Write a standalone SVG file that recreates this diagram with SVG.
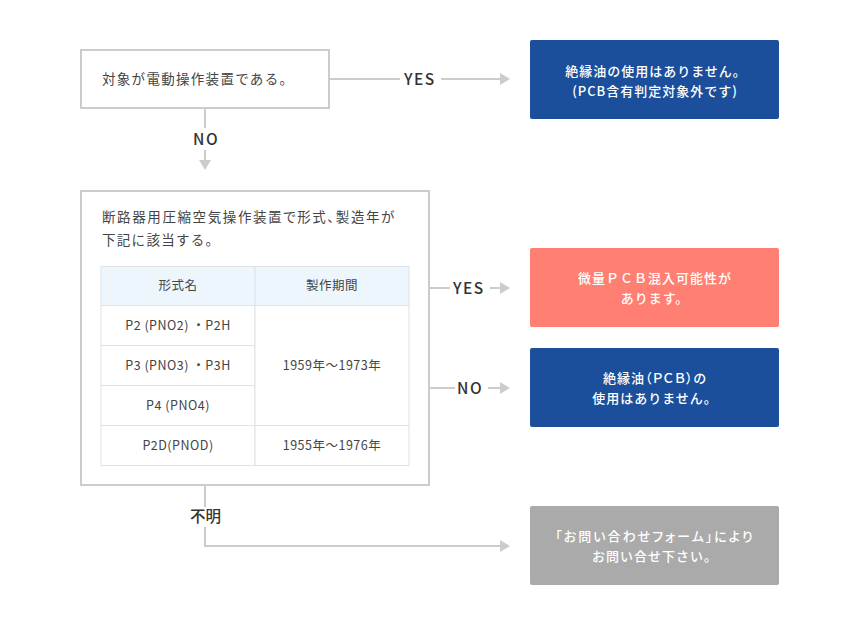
<svg xmlns="http://www.w3.org/2000/svg" width="860" height="626" viewBox="0 0 860 626">
<defs>
<style>
text{font-family:"Noto Sans CJK JP","Noto Sans",sans-serif;}
.q{fill:#fff;stroke:#cccccc;stroke-width:2;}
.t{font-size:13.5px;fill:#444;letter-spacing:1.3px;}
.c{font-size:12.5px;fill:#444;text-anchor:middle;letter-spacing:0.5px;}
.w{font-size:13px;fill:#fff;text-anchor:middle;letter-spacing:1px;font-weight:500;}
.p{font-feature-settings:"palt";}
.lb{font-size:15.5px;fill:#333;font-weight:500;letter-spacing:1.5px;}
.ln{stroke:#cccccc;stroke-width:2;fill:none;}
.ah{fill:#cccccc;}
.cell{fill:#fff;stroke:#dde3e8;stroke-width:1;}
.hd{fill:#eef6fd;stroke:#dde3e8;stroke-width:1;}
</style>
</defs>
<rect width="860" height="626" fill="#fff"/>
<g id="connectors">
<line class="ln" x1="329" y1="79" x2="400" y2="79"/>
<text class="lb" x="404" y="84.5">YES</text>
<line class="ln" x1="441" y1="79" x2="501" y2="79"/>
<polygon class="ah" points="500,73 510,79 500,85"/>
<line class="ln" x1="205" y1="108" x2="205" y2="128"/>
<text class="lb" x="193" y="145">NO</text>
<line class="ln" x1="205" y1="150" x2="205" y2="161"/>
<polygon class="ah" points="199,160 211,160 205,170"/>
<line class="ln" x1="429" y1="288" x2="450" y2="288"/>
<text class="lb" x="453" y="293.5">YES</text>
<line class="ln" x1="490" y1="288" x2="501" y2="288"/>
<polygon class="ah" points="500,282 510,288 500,294"/>
<line class="ln" x1="429" y1="388" x2="455" y2="388"/>
<text class="lb" x="457" y="393.5">NO</text>
<line class="ln" x1="488" y1="388" x2="501" y2="388"/>
<polygon class="ah" points="500,382 510,388 500,394"/>
<line class="ln" x1="205" y1="485" x2="205" y2="507"/>
<text class="lb" x="190" y="522" style="letter-spacing:0">不明</text>
<polyline class="ln" points="205,527 205,546 501,546"/>
<polygon class="ah" points="500,540 510,546 500,552"/>
</g>
<g id="q1">
<rect class="q" x="81" y="50" width="248" height="58"/>
<text class="t" x="102" y="84">対象が電動操作装置である。</text>
</g>
<g id="r1">
<rect x="530" y="40" width="249" height="79" rx="2" fill="#1b4f9c"/>
<text class="w" x="656" y="76">絶縁油の使用はありません。</text>
<text class="w" x="655" y="96">(PCB含有判定対象外です)</text>
</g>
<g id="q2">
<rect class="q" x="81" y="191" width="348" height="294"/>
<text class="t p" x="102" y="222" style="letter-spacing:1.6px">断路器用圧縮空気操作装置で形式、製造年が</text>
<text class="t" x="102" y="245">下記に該当する。</text>
<g id="table">
<rect class="hd" x="101" y="266.5" width="154" height="39"/>
<rect class="hd" x="255" y="266.5" width="154" height="39"/>
<rect class="cell" x="101" y="305.5" width="154" height="40"/>
<rect class="cell" x="101" y="345.5" width="154" height="40"/>
<rect class="cell" x="101" y="385.5" width="154" height="40"/>
<rect class="cell" x="101" y="425.5" width="154" height="40"/>
<rect class="cell" x="255" y="305.5" width="154" height="120"/>
<rect class="cell" x="255" y="425.5" width="154" height="40"/>
<text class="c" x="178" y="290">形式名</text>
<text class="c" x="332" y="290">製作期間</text>
<text class="c" x="178" y="330">P2 (PNO2) ・P2H</text>
<text class="c" x="178" y="370">P3 (PNO3) ・P3H</text>
<text class="c" x="178" y="410">P4 (PNO4)</text>
<text class="c" x="178" y="450">P2D(PNOD)</text>
<text class="c" x="332" y="370">1959年～1973年</text>
<text class="c" x="332" y="450">1955年～1976年</text>
</g>
</g>
<g id="r2">
<rect x="530" y="248" width="249" height="79" rx="2" fill="#ff7f73"/>
<text class="w" x="655" y="283">微量ＰＣＢ混入可能性が</text>
<text class="w" x="655" y="303">あります。</text>
</g>
<g id="r3">
<rect x="530" y="348" width="249" height="79" rx="2" fill="#1b4f9c"/>
<text class="w p" x="655" y="383">絶縁油（ＰＣＢ）の</text>
<text class="w" x="655" y="403">使用はありません。</text>
</g>
<g id="r4">
<rect x="530" y="506" width="249" height="79" rx="2" fill="#aaaaaa"/>
<text class="w p" x="655" y="541" style="letter-spacing:2px">「お問い合わせフォーム」により</text>
<text class="w" x="655" y="561">お問い合せ下さい。</text>
</g>
</svg>
